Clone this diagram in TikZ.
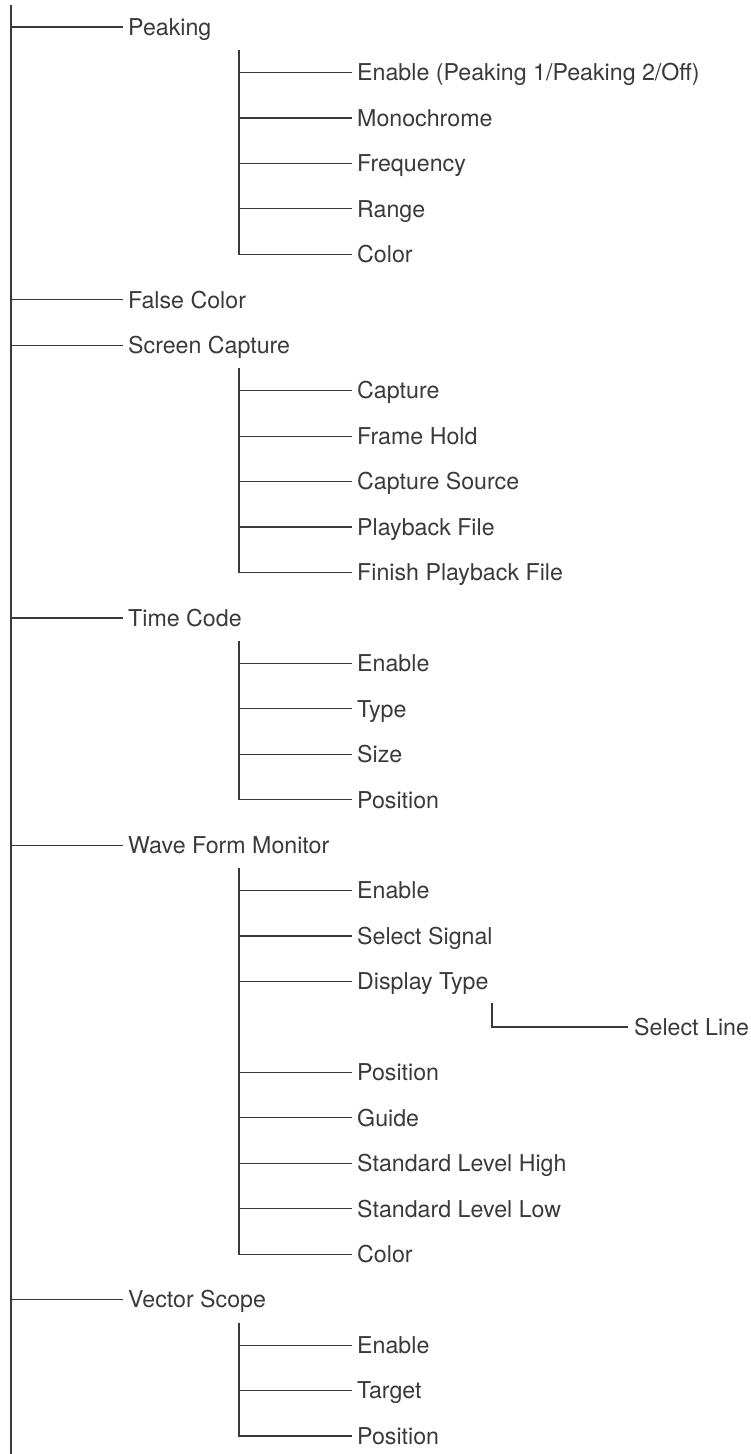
\documentclass[tikz,border=0pt]{standalone}
\usepackage{fontspec}
\setmainfont{TeX Gyre Heros}
\definecolor{ink}{HTML}{3A3A3A}
\definecolor{wire}{HTML}{3A3A3A}
\begin{document}
\begin{tikzpicture}[x=1pt,y=-1pt,
  lbl/.style={anchor=west,inner xsep=5pt,inner ysep=0pt,text height=16.6pt,text depth=0pt,
    font=\fontsize{23.2pt}{25pt}\selectfont,text=ink},
  wr/.style={draw=wire,line width=1.2pt}]
\useasboundingbox (0,0) rectangle (750,1454);
% trunk
\coordinate (top) at (11,5);
\coordinate (bot) at (11,1454);
\draw[wr] (top) -- (bot);
% level 1
\node[lbl] (peak) at (123,27.0) {Peaking};
\node[lbl] (false) at (123,299.7) {False Color};
\node[lbl] (scr) at (123,345.2) {Screen Capture};
\node[lbl] (tc) at (123,617.9) {Time Code};
\node[lbl] (wfm) at (123,845.1) {Wave Form Monitor};
\node[lbl] (vs) at (123,1299.6) {Vector Scope};
\foreach \n in {peak,false,scr,tc,wfm,vs}
  \draw[wr] (\n.west -| top) -- (\n.west);
% Peaking children
\coordinate (pk) at (239,50);
\node[lbl] (pk1) at (352,72.5) {Enable (Peaking 1/Peaking 2/Off)};
\node[lbl] (pk2) at (352,117.9) {Monochrome};
\node[lbl] (pk3) at (352,163.4) {Frequency};
\node[lbl] (pk4) at (352,208.8) {Range};
\node[lbl] (pk5) at (352,254.3) {Color};
\draw[wr] (pk) |- (pk5.west);
\foreach \n in {pk1,pk2,pk3,pk4}
  \draw[wr] (\n.west -| pk) -- (\n.west);
% Screen Capture children
\coordinate (sc) at (239,368);
\node[lbl] (sc1) at (352,390.6) {Capture};
\node[lbl] (sc2) at (352,436.1) {Frame Hold};
\node[lbl] (sc3) at (352,481.5) {Capture Source};
\node[lbl] (sc4) at (352,527.0) {Playback File};
\node[lbl] (sc5) at (352,572.4) {Finish Playback File};
\draw[wr] (sc) |- (sc5.west);
\foreach \n in {sc1,sc2,sc3,sc4}
  \draw[wr] (\n.west -| sc) -- (\n.west);
% Time Code children
\coordinate (tcv) at (239,641);
\node[lbl] (tc1) at (352,663.3) {Enable};
\node[lbl] (tc2) at (352,708.8) {Type};
\node[lbl] (tc3) at (352,754.2) {Size};
\node[lbl] (tc4) at (352,799.7) {Position};
\draw[wr] (tcv) |- (tc4.west);
\foreach \n in {tc1,tc2,tc3}
  \draw[wr] (\n.west -| tcv) -- (\n.west);
% Wave Form Monitor children
\coordinate (wf) at (239,868);
\node[lbl] (wf1) at (352,890.6) {Enable};
\node[lbl] (wf2) at (352,936.0) {Select Signal};
\node[lbl] (wf3) at (352,981.5) {Display Type};
\node[lbl] (wf4) at (352,1072.4) {Position};
\node[lbl] (wf5) at (352,1117.8) {Guide};
\node[lbl] (wf6) at (352,1163.3) {Standard Level High};
\node[lbl] (wf7) at (352,1208.7) {Standard Level Low};
\node[lbl] (wf8) at (352,1254.2) {Color};
\draw[wr] (wf) |- (wf8.west);
\foreach \n in {wf1,wf2,wf3,wf4,wf5,wf6,wf7}
  \draw[wr] (\n.west -| wf) -- (\n.west);
% Display Type child
\coordinate (dt) at (492,1003);
\node[lbl,inner xsep=6pt] (dt1) at (628,1026.9) {Select Line};
\draw[wr] (dt) |- (dt1.west);
% Vector Scope children
\coordinate (vsv) at (239,1323);
\node[lbl] (vs1) at (352,1345.1) {Enable};
\node[lbl] (vs2) at (352,1390.5) {Target};
\node[lbl] (vs3) at (352,1436.0) {Position};
\draw[wr] (vsv) |- (vs3.west);
\foreach \n in {vs1,vs2}
  \draw[wr] (\n.west -| vsv) -- (\n.west);
\end{tikzpicture}
\end{document}
